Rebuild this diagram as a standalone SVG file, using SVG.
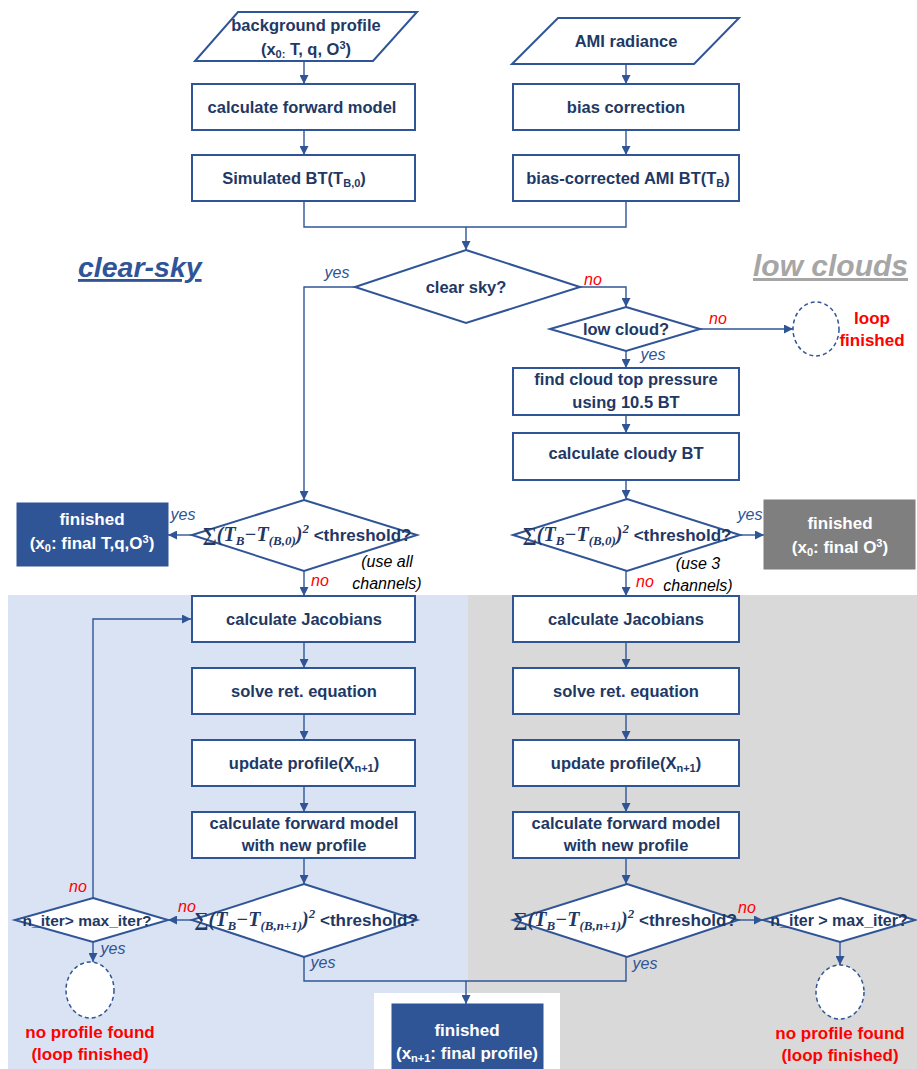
<svg xmlns="http://www.w3.org/2000/svg" width="917" height="1069" viewBox="0 0 917 1069">
<defs>
<style>
.box{fill:#fff;stroke:#2f5597;stroke-width:2}
.dk{fill:#2f5597;stroke:#2f5597;stroke-width:1}
.gr{fill:#7f7f7f;stroke:#7f7f7f;stroke-width:1}
.circ{fill:#fff;stroke:#2f5597;stroke-width:1.5;stroke-dasharray:4 3}
.con{fill:none;stroke:#2f5597;stroke-width:1.4}
.lbl{font-family:"Liberation Sans","Noto Sans",Arial,sans-serif;font-weight:bold;font-size:16.5px;fill:#1f3864;text-anchor:middle}
.wl{font-family:"Liberation Sans","Noto Sans",Arial,sans-serif;font-weight:bold;font-size:17px;fill:#fff;text-anchor:middle}
.math{font-family:"Liberation Serif","DejaVu Serif",serif;font-weight:bold;font-style:italic;font-size:20px;fill:#1f3864;text-anchor:middle}
.thr{font-family:"Liberation Sans","Noto Sans",Arial,sans-serif;font-style:normal;font-size:17px}
.sm{font-size:13px}
.ss{font-size:11px}
.yes{font-family:"Liberation Sans","Noto Sans",Arial,sans-serif;font-style:italic;font-size:16px;fill:#2f5597;text-anchor:middle}
.no{font-family:"Liberation Sans","Noto Sans",Arial,sans-serif;font-style:italic;font-size:16px;fill:#ff0000;text-anchor:middle}
.note{font-family:"Liberation Sans","Noto Sans",Arial,sans-serif;font-style:italic;font-size:16px;fill:#000;text-anchor:middle}
.red{font-family:"Liberation Sans","Noto Sans",Arial,sans-serif;font-weight:bold;font-size:17px;fill:#ff0000;text-anchor:middle}
.title{font-family:"Liberation Sans","Noto Sans",Arial,sans-serif;font-weight:bold;font-style:italic;font-size:30px;text-decoration:underline}
</style>
<marker id="arr" viewBox="0 0 10 10" refX="10" refY="5" markerWidth="10" markerHeight="9" markerUnits="userSpaceOnUse" orient="auto"><path d="M0,0 L10,5 L0,10 z" fill="#2f5597"/></marker>
</defs>

<g id="panels">
<rect x="8" y="595" width="460" height="474" fill="#dae3f3"/>
<rect x="468" y="595" width="449" height="474" fill="#d9d9d9"/>
<rect x="374" y="993" width="186" height="76" fill="#fff"/>
</g>

<g id="titles">
<text class="title" x="78" y="277" fill="#2f5597" style="font-size:28.5px">clear-sky</text>
<text class="title" x="753" y="276" fill="#a6a6a6">low clouds</text>
</g>

<g id="connectors">
<path class="con" d="M304,61 V84" marker-end="url(#arr)"/>
<path class="con" d="M304,130 V155" marker-end="url(#arr)"/>
<path class="con" d="M626,64 V84" marker-end="url(#arr)"/>
<path class="con" d="M626,130 V155" marker-end="url(#arr)"/>
<path class="con" d="M304,201 V227 H626 V201"/>
<path class="con" d="M466,227 V250" marker-end="url(#arr)"/>
<path class="con" d="M355,287 H304 V500" marker-end="url(#arr)"/>
<path class="con" d="M580,287 H626 V307" marker-end="url(#arr)"/>
<path class="con" d="M700,329 H793" marker-end="url(#arr)"/>
<path class="con" d="M626,351 V368" marker-end="url(#arr)"/>
<path class="con" d="M626,415 V433" marker-end="url(#arr)"/>
<path class="con" d="M626,480 V499" marker-end="url(#arr)"/>
<path class="con" d="M192,535 H168" marker-end="url(#arr)"/>
<path class="con" d="M304,571 V596" marker-end="url(#arr)"/>
<path class="con" d="M740,535 H764" marker-end="url(#arr)"/>
<path class="con" d="M626,571 V596" marker-end="url(#arr)"/>
<path class="con" d="M304,642 V668" marker-end="url(#arr)"/>
<path class="con" d="M304,714 V740" marker-end="url(#arr)"/>
<path class="con" d="M304,786 V812" marker-end="url(#arr)"/>
<path class="con" d="M304,858 V884" marker-end="url(#arr)"/>
<path class="con" d="M626,642 V668" marker-end="url(#arr)"/>
<path class="con" d="M626,714 V740" marker-end="url(#arr)"/>
<path class="con" d="M626,786 V812" marker-end="url(#arr)"/>
<path class="con" d="M626,858 V884" marker-end="url(#arr)"/>
<path class="con" d="M192,920 H168" marker-end="url(#arr)"/>
<path class="con" d="M93,898 V619 H191" marker-end="url(#arr)"/>
<path class="con" d="M93,942 V962" marker-end="url(#arr)"/>
<path class="con" d="M304,957 V981 H626 V957"/>
<path class="con" d="M466,981 V1004" marker-end="url(#arr)"/>
<path class="con" d="M738,920 H763" marker-end="url(#arr)"/>
<path class="con" d="M840,942 V965" marker-end="url(#arr)"/>
</g>

<g id="background-profile">
<polygon class="box" points="238,12 417,12 373,61 195,61"/>
<text class="lbl" x="306" y="31">background profile</text>
<text class="lbl" x="306" y="55">(x<tspan class="ss" dy="3">0:</tspan><tspan dy="-3"> T, q, O</tspan><tspan class="ss" dy="-6">3</tspan><tspan dy="6">)</tspan></text>
</g>
<g id="ami-radiance">
<polygon class="box" points="558,18 739,18 694,64 512,64"/>
<text class="lbl" x="626" y="47">AMI radiance</text>
</g>
<g id="calc-forward">
<rect class="box" x="192" y="84" width="223" height="46"/>
<text class="lbl" x="302" y="113">calculate forward model</text>
</g>
<g id="bias-correction">
<rect class="box" x="513" y="84" width="226" height="46"/>
<text class="lbl" x="626" y="113">bias correction</text>
</g>
<g id="simulated-bt">
<rect class="box" x="192" y="155" width="223" height="46"/>
<text class="lbl" x="294" y="184">Simulated BT(T<tspan class="ss" dy="3">B,0</tspan><tspan dy="-3">)</tspan></text>
</g>
<g id="bias-corrected-bt">
<rect class="box" x="513" y="155" width="226" height="46"/>
<text class="lbl" x="628" y="184">bias-corrected AMI BT(T<tspan class="ss" dy="3">B</tspan><tspan dy="-3">)</tspan></text>
</g>
<g id="clear-sky-q">
<polygon class="box" points="466,250 580,287 466,323 355,287"/>
<text class="lbl" x="466" y="293">clear sky?</text>
</g>
<g id="low-cloud-q">
<polygon class="box" points="626,307 700,329 626,351 550,329"/>
<text class="lbl" x="626" y="335">low cloud?</text>
</g>
<g id="loop-finished-1">
<ellipse class="circ" cx="816" cy="329" rx="23" ry="27"/>
<text class="red" x="872" y="324">loop</text>
<text class="red" x="872" y="346">finished</text>
</g>
<g id="cloud-top">
<rect class="box" x="513" y="368" width="226" height="47"/>
<text class="lbl" x="626" y="385">find cloud top pressure</text>
<text class="lbl" x="626" y="408">using 10.5 BT</text>
</g>
<g id="cloudy-bt">
<rect class="box" x="513" y="433" width="226" height="47"/>
<text class="lbl" x="626" y="459">calculate cloudy BT</text>
</g>
<g id="threshold-clear">
<polygon class="box" points="304,500 417,535 304,571 192,535"/>
<text class="math" x="307" y="541">∑(<tspan>T</tspan><tspan class="sm" dy="4">B</tspan><tspan dy="-4">−T</tspan><tspan class="sm" dy="4">(B,0)</tspan><tspan dy="-4">)</tspan><tspan class="sm" dy="-8">2</tspan><tspan class="thr" dy="8"> &lt;threshold?</tspan></text>
</g>
<g id="threshold-cloud">
<polygon class="box" points="627,499 740,535 627,571 513,535"/>
<text class="math" x="627" y="541">∑(<tspan>T</tspan><tspan class="sm" dy="4">B</tspan><tspan dy="-4">−T</tspan><tspan class="sm" dy="4">(B,0)</tspan><tspan dy="-4">)</tspan><tspan class="sm" dy="-8">2</tspan><tspan class="thr" dy="8"> &lt;threshold?</tspan></text>
</g>
<g id="finished-clear">
<rect class="dk" x="17" y="503" width="151" height="63"/>
<text class="wl" x="92" y="525">finished</text>
<text class="wl" x="92" y="549">(x<tspan class="ss" dy="3">0</tspan><tspan dy="-3">: final T,q,O</tspan><tspan class="ss" dy="-6">3</tspan><tspan dy="6">)</tspan></text>
</g>
<g id="finished-cloud">
<rect class="gr" x="764" y="500" width="151" height="69"/>
<text class="wl" x="840" y="529">finished</text>
<text class="wl" x="840" y="553">(x<tspan class="ss" dy="3">0</tspan><tspan dy="-3">: final O</tspan><tspan class="ss" dy="-6">3</tspan><tspan dy="6">)</tspan></text>
</g>
<g id="jacobians-clear">
<rect class="box" x="192" y="596" width="223" height="46"/>
<text class="lbl" x="304" y="625">calculate Jacobians</text>
</g>
<g id="solve-clear">
<rect class="box" x="192" y="668" width="223" height="46"/>
<text class="lbl" x="304" y="697">solve ret. equation</text>
</g>
<g id="update-clear">
<rect class="box" x="192" y="740" width="223" height="46"/>
<text class="lbl" x="304" y="769">update profile(X<tspan class="ss" dy="3">n+1</tspan><tspan dy="-3">)</tspan></text>
</g>
<g id="forward-clear">
<rect class="box" x="192" y="812" width="223" height="46"/>
<text class="lbl" x="304" y="829">calculate forward model</text>
<text class="lbl" x="304" y="851">with new profile</text>
</g>
<g id="jacobians-cloud">
<rect class="box" x="513" y="596" width="226" height="46"/>
<text class="lbl" x="626" y="625">calculate Jacobians</text>
</g>
<g id="solve-cloud">
<rect class="box" x="513" y="668" width="226" height="46"/>
<text class="lbl" x="626" y="697">solve ret. equation</text>
</g>
<g id="update-cloud">
<rect class="box" x="513" y="740" width="226" height="46"/>
<text class="lbl" x="626" y="769">update profile(X<tspan class="ss" dy="3">n+1</tspan><tspan dy="-3">)</tspan></text>
</g>
<g id="forward-cloud">
<rect class="box" x="513" y="812" width="226" height="46"/>
<text class="lbl" x="626" y="829">calculate forward model</text>
<text class="lbl" x="626" y="851">with new profile</text>
</g>
<g id="threshold-iter-clear">
<polygon class="box" points="304,884 417,920 304,957 192,920"/>
<text class="math" x="306" y="926">∑(<tspan>T</tspan><tspan class="sm" dy="4">B</tspan><tspan dy="-4">−T</tspan><tspan class="sm" dy="4">(B,n+1)</tspan><tspan dy="-4">)</tspan><tspan class="sm" dy="-8">2</tspan><tspan class="thr" dy="8"> &lt;threshold?</tspan></text>
</g>
<g id="threshold-iter-cloud">
<polygon class="box" points="627,884 738,920 627,957 513,920"/>
<text class="math" x="625" y="926">∑(<tspan>T</tspan><tspan class="sm" dy="4">B</tspan><tspan dy="-4">−T</tspan><tspan class="sm" dy="4">(B,n+1)</tspan><tspan dy="-4">)</tspan><tspan class="sm" dy="-8">2</tspan><tspan class="thr" dy="8"> &lt;threshold?</tspan></text>
</g>
<g id="iter-clear">
<polygon class="box" points="93,898 168,920 93,942 15,920"/>
<text class="lbl" x="87" y="926" style="font-size:15.5px">n_iter&gt; max_iter?</text>
</g>
<g id="iter-cloud">
<polygon class="box" points="840,898 915,920 840,942 763,920"/>
<text class="lbl" x="839" y="926" style="font-size:16px">n_iter &gt; max_iter?</text>
</g>
<g id="no-profile-clear">
<ellipse class="circ" cx="90" cy="990" rx="24" ry="28"/>
<text class="red" x="90" y="1038">no profile found</text>
<text class="red" x="90" y="1060">(loop finished)</text>
</g>
<g id="no-profile-cloud">
<ellipse class="circ" cx="840" cy="992" rx="24" ry="27"/>
<text class="red" x="840" y="1039">no profile found</text>
<text class="red" x="840" y="1061">(loop finished)</text>
</g>
<g id="finished-final">
<rect class="dk" x="392" y="1004" width="151" height="66"/>
<text class="wl" x="467" y="1036">finished</text>
<text class="wl" x="467" y="1059">(x<tspan class="ss" dy="3">n+1</tspan><tspan dy="-3">: final profile)</tspan></text>
</g>

<g id="edge-labels">
<text class="yes" x="337" y="278">yes</text>
<text class="no" x="593" y="285">no</text>
<text class="no" x="718" y="324">no</text>
<text class="yes" x="653" y="360">yes</text>
<text class="yes" x="183" y="520">yes</text>
<text class="no" x="320" y="586">no</text>
<text class="note" x="387" y="567">(use all</text>
<text class="note" x="387" y="589">channels)</text>
<text class="yes" x="750" y="520">yes</text>
<text class="no" x="645" y="587">no</text>
<text class="note" x="698" y="569">(use 3</text>
<text class="note" x="698" y="591">channels)</text>
<text class="no" x="187" y="912">no</text>
<text class="no" x="78" y="892">no</text>
<text class="yes" x="113" y="954">yes</text>
<text class="yes" x="323" y="968">yes</text>
<text class="no" x="747" y="913">no</text>
<text class="yes" x="645" y="969">yes</text>
</g>
</svg>
